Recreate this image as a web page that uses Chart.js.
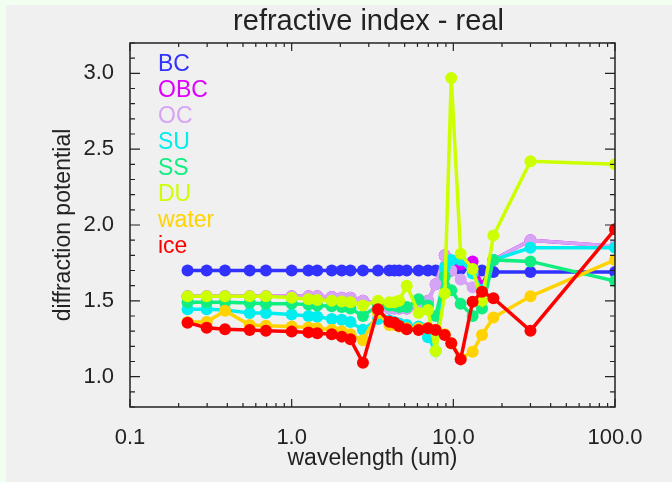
<!DOCTYPE html>
<html>
<head>
<meta charset="utf-8">
<script src="https://cdn.jsdelivr.net/npm/chart.js@4"></script>
<style>
	html, body { margin: 0; padding: 0; background: #f0fff0; }
	canvas { display: block; }
</style>
</head>
<body>
<canvas id="myChart" width="672" height="482"></canvas>
<script>
// band centres (um) and real refractive index for each aerosol type
const wavelength = [0.227, 0.298, 0.387, 0.55, 0.693, 1.0, 1.27, 1.44, 1.77, 2.04, 2.31, 2.76,
	3.42, 4.02, 4.32, 4.62, 5.15, 6.1, 6.97, 7.78, 8.85, 9.71, 11.1, 13.16, 15.04, 17.7, 30, 100];

const BC = [1.70, 1.70, 1.70, 1.70, 1.70, 1.70, 1.70, 1.70, 1.70, 1.70, 1.70, 1.70,
	1.70, 1.70, 1.70, 1.70, 1.70, 1.70, 1.70, 1.70, 1.70, 1.70, 1.71, 1.71, 1.70, 1.69, 1.69, 1.69];
const OBC = [1.53, 1.53, 1.53, 1.53, 1.53, 1.53, 1.53, 1.53, 1.525, 1.52, 1.52, 1.50,
	1.48, 1.45, 1.45, 1.45, 1.45, 1.46, 1.50, 1.61, 1.80, 1.70, 1.74, 1.76, 1.60, 1.77, 1.90, 1.86];
const OC = [1.53, 1.53, 1.53, 1.53, 1.53, 1.53, 1.53, 1.53, 1.525, 1.52, 1.52, 1.50,
	1.48, 1.45, 1.45, 1.45, 1.45, 1.46, 1.50, 1.61, 1.80, 1.70, 1.64, 1.59, 1.56, 1.77, 1.90, 1.86];
const SU = [1.445, 1.445, 1.44, 1.42, 1.42, 1.41, 1.40, 1.395, 1.38, 1.375, 1.36, 1.31,
	1.38, 1.37, 1.36, 1.35, 1.34, 1.33, 1.26, 1.17, 1.72, 1.77, 1.77, 1.68, 1.57, 1.77, 1.85, 1.85];
const SS = [1.49, 1.49, 1.49, 1.485, 1.48, 1.48, 1.475, 1.47, 1.465, 1.46, 1.45, 1.40,
	1.47, 1.47, 1.47, 1.46, 1.46, 1.51, 1.47, 1.40, 1.66, 1.57, 1.48, 1.40, 1.45, 1.77, 1.76, 1.63];
const DU = [1.53, 1.53, 1.53, 1.53, 1.53, 1.52, 1.51, 1.505, 1.50, 1.495, 1.49, 1.47,
	1.50, 1.49, 1.49, 1.50, 1.60, 1.42, 1.44, 1.17, 1.55, 2.97, 1.81, 1.71, 1.50, 1.93, 2.42, 2.40];
const water = [1.36, 1.36, 1.435, 1.34, 1.335, 1.33, 1.325, 1.32, 1.31, 1.30, 1.28, 1.24,
	1.42, 1.34, 1.34, 1.33, 1.32, 1.32, 1.32, 1.31, 1.28, 1.22, 1.12, 1.165, 1.275, 1.39, 1.53, 1.77];
const ice = [1.356, 1.323, 1.312, 1.308, 1.303, 1.297, 1.292, 1.286, 1.279, 1.264, 1.246, 1.092,
	1.444, 1.362, 1.356, 1.334, 1.312, 1.308, 1.319, 1.308, 1.275, 1.22, 1.114, 1.494, 1.56, 1.517, 1.303, 1.972];

const seriesNames = ["BC", "OBC", "OC", "SU", "SS", "DU", "water", "ice"];
const seriesValues = [BC, OBC, OC, SU, SS, DU, water, ice];
const seriesColors = ['#3232ff', '#dd00ff', '#d6a4f5', '#00eeee', '#10ee80', '#ccff00', '#ffd200', '#ff0000'];

const xTickValues = [0.1, 1, 10, 100];
const xTickLabels = ["0.1", "1.0", "10.0", "100.0"];
const yTickValues = [1.0, 1.5, 2.0, 2.5, 3.0];
const yTickLabels = ["1.0", "1.5", "2.0", "2.5", "3.0"];

const FONT = "'Liberation Sans', Arial, sans-serif";
const INK = '#222';

// IDL style box: frame with inward ticks on all four sides, title and in-plot legend
const idlFrame = {
	id: 'idlFrame',
	beforeDraw(chart) {
		const ctx = chart.ctx;
		ctx.save();
		ctx.fillStyle = '#f0fff0';
		ctx.fillRect(0, 0, chart.width, chart.height);
		ctx.fillStyle = '#f0f0f0';
		ctx.fillRect(6, 5, chart.width - 6, chart.height - 5);
		ctx.restore();
	},
	afterDraw(chart) {
		const {ctx, chartArea: a, scales: {x, y}} = chart;
		ctx.save();
		ctx.strokeStyle = INK;
		ctx.lineWidth = 1.5;
		ctx.strokeRect(a.left, a.top, a.right - a.left, a.bottom - a.top);

		ctx.lineWidth = 1.2;
		ctx.beginPath();
		// x ticks, log decades
		for (let d = 0.1; d < 100; d *= 10) {
			for (let m = 1; m <= 10; m++) {
				let px = x.getPixelForValue(d * m);
				let len = (m == 1 || m == 10) ? 8 : 4;
				ctx.moveTo(px, a.bottom); ctx.lineTo(px, a.bottom - len);
				ctx.moveTo(px, a.top); ctx.lineTo(px, a.top + len);
			}
		}
		// y ticks every 0.1
		for (let k = 8; k <= 32; k++) {
			let v = k / 10;
			let py = y.getPixelForValue(v);
			let len = (k % 5 == 0) ? 10 : 5;
			ctx.moveTo(a.left, py); ctx.lineTo(a.left + len, py);
			ctx.moveTo(a.right, py); ctx.lineTo(a.right - len, py);
		}
		ctx.stroke();

		// title and axis titles
		ctx.fillStyle = INK;
		ctx.textAlign = 'center';
		ctx.textBaseline = 'alphabetic';
		ctx.font = '29px ' + FONT;
		ctx.fillText('refractive index - real', (a.left + a.right) / 2 - 4, 30);
		ctx.font = '23px ' + FONT;
		ctx.textBaseline = 'middle';
		ctx.fillText('wavelength (um)', (a.left + a.right) / 2, 459);
		ctx.save();
		ctx.translate(64, (a.top + a.bottom) / 2);
		ctx.rotate(-Math.PI / 2);
		ctx.fillText('diffraction potential', 0, 0);
		ctx.restore();

		// legend
		ctx.textAlign = 'left';
		ctx.font = '23px ' + FONT;
		for (let i = 0; i < seriesNames.length; i++) {
			ctx.fillStyle = seriesColors[i];
			ctx.fillText(seriesNames[i], a.left + 28, a.top + 22 + i * 25.9);
		}
		ctx.restore();
	}
};

const datasets = [];
for (let i = 0; i < seriesNames.length; i++) {
	datasets.push({
		label: seriesNames[i],
		data: wavelength.map((w, j) => ({x: w, y: seriesValues[i][j]})),
		borderColor: seriesColors[i],
		backgroundColor: seriesColors[i],
		pointBackgroundColor: seriesColors[i],
		borderWidth: 3.5,
		pointRadius: 6,
		pointBorderWidth: 0,
		tension: 0,
		fill: false,
		order: seriesNames.length - i  // ice on top, BC underneath
	});
}

const config = {
	type: 'line',
	data: {datasets: datasets},
	options: {
		responsive: false,
		animation: false,
		devicePixelRatio: 1,
		events: [],
		layout: {padding: {left: 0, right: 57, top: 43, bottom: 0}},
		plugins: {
			legend: {display: false},
			title: {display: false},
			tooltip: {enabled: false}
		},
		scales: {
			x: {
				type: 'logarithmic',
				min: 0.1,
				max: 100,
				grid: {display: false},
				border: {display: false},
				afterFit: s => { s.height = 75; },
				afterBuildTicks: s => { s.ticks = xTickValues.map(v => ({value: v})); },
				ticks: {
					autoSkip: false,
					maxRotation: 0,
					padding: 10,
					color: INK,
					font: {family: FONT, size: 22},
					callback: (v) => xTickLabels[xTickValues.indexOf(v)]
				}
			},
			y: {
				type: 'linear',
				min: 0.8,
				max: 3.2,
				grid: {display: false},
				border: {display: false},
				afterFit: s => { s.width = 130; },
				afterBuildTicks: s => { s.ticks = yTickValues.map(v => ({value: v})); },
				ticks: {
					padding: 8,
					color: INK,
					font: {family: FONT, size: 22},
					callback: (v) => yTickLabels[yTickValues.indexOf(v)]
				}
			}
		}
	},
	plugins: [idlFrame]
};

const myChart = new Chart(document.getElementById('myChart'), config);
</script>
</body>
</html>
